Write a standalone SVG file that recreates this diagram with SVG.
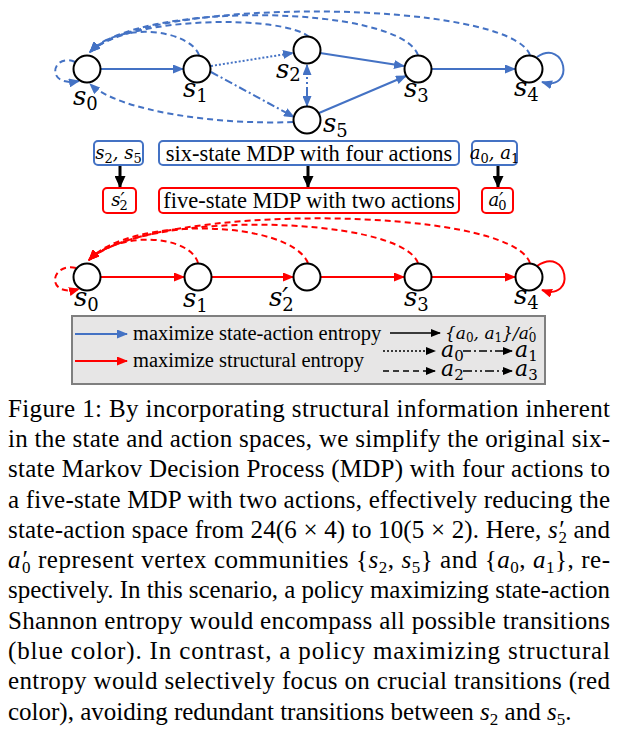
<svg xmlns="http://www.w3.org/2000/svg" width="621" height="733" viewBox="0 0 621 733">
<style>
.node circle{fill:#fff;stroke:#000;stroke-width:2}
.lbl{font-family:"DejaVu Serif",serif;font-style:italic;font-size:26px;fill:#000}
.sub{font-style:normal;font-size:18px}
.b{fill:none;stroke:#4472C4;stroke-width:2}
.r{fill:none;stroke:#FF0000;stroke-width:2}
.k{fill:none;stroke:#000;stroke-width:1.6}
.dash{stroke-dasharray:6,4}
.dot{stroke-dasharray:2,2}
.dd{stroke-dasharray:8,3,2,3}
.ddd{stroke-dasharray:9,3,2,3,2,3}
.bx{fill:#fff;stroke-width:2}
.bt{font-family:"Liberation Serif",serif;font-size:22.5px;fill:#000}
.mt{font-family:"DejaVu Serif",serif;font-style:italic;font-size:18px;fill:#000}
.ms{font-style:normal;font-size:13px}
.m1{font-family:"DejaVu Serif",serif;font-style:italic;font-size:17px;fill:#000}
.m1s{font-style:normal;font-size:12px}
.m2{font-family:"DejaVu Serif",serif;font-style:italic;font-size:22px;fill:#000}
.m2s{font-style:normal;font-size:15px}
.lg{font-family:"Liberation Serif",serif;font-size:20.5px;fill:#000}
.cap{font-family:"Liberation Serif",serif;font-size:25px;fill:#000}
.it{font-style:italic}
.cs{font-size:17px}
</style>
<defs>
<marker id="ab" markerUnits="userSpaceOnUse" markerWidth="11" markerHeight="9" refX="10" refY="4.5" orient="auto-start-reverse"><path d="M0,0 L11,4.5 L0,9 z" fill="#4472C4"/></marker>
<marker id="ar" markerUnits="userSpaceOnUse" markerWidth="11" markerHeight="9" refX="10" refY="4.5" orient="auto"><path d="M0,0 L11,4.5 L0,9 z" fill="#FF0000"/></marker>
<marker id="ak" markerUnits="userSpaceOnUse" markerWidth="10" markerHeight="8" refX="9" refY="4" orient="auto"><path d="M0,0 L10,4 L0,8 z" fill="#000"/></marker>
<marker id="akb" markerUnits="userSpaceOnUse" markerWidth="12" markerHeight="11" refX="11" refY="5.5" orient="auto"><path d="M0,0 L12,5.5 L0,11 z" fill="#000"/></marker>
</defs>

<g id="connectors">
  <!-- top graph -->
  <path class="b" d="M101,69 L183,69" marker-end="url(#ab)"/>
  <path class="b dash" d="M75,62 C52,52 44,88 79,81" marker-end="url(#ab)"/>
  <path class="b dot" d="M211,66 L293,53" marker-end="url(#ab)"/>
  <path class="b dd" d="M211,72 L294,117" marker-end="url(#ab)"/>
  <path class="b ddd" d="M307,65 L307,106" marker-start="url(#ab)" marker-end="url(#ab)"/>
  <path class="b" d="M320,53 L404,66" marker-end="url(#ab)"/>
  <path class="b" d="M319,113 L406,76" marker-end="url(#ab)"/>
  <path class="b" d="M432,69 L515,69" marker-end="url(#ab)"/>
  <path class="b" d="M537,57 C566,38 576,92 542,82" marker-end="url(#ab)"/>
  <path class="b dash" d="M199,55 C190,30 120,20 90,52" marker-end="url(#ab)"/>
  <path class="b dash" d="M309,37 C285,15 130,15 90,52" marker-end="url(#ab)"/>
  <path class="b dash" d="M418,55 C400,5 140,0 90,52" marker-end="url(#ab)"/>
  <path class="b dash" d="M530,55 C510,0 150,-5 90,52" marker-end="url(#ab)"/>
  <path class="b dash" d="M293,122 C220,125 120,112 90,84" marker-end="url(#ab)"/>
  <!-- box arrows -->
  <path d="M120,166 L120,187" stroke="#000" stroke-width="3" marker-end="url(#akb)"/>
  <path d="M308,166 L308,187" stroke="#000" stroke-width="3" marker-end="url(#akb)"/>
  <path d="M498,166 L498,187" stroke="#000" stroke-width="3" marker-end="url(#akb)"/>
  <!-- bottom graph -->
  <path class="r" d="M101,277 L184,277" marker-end="url(#ar)"/>
  <path class="r" d="M212,277 L293,277" marker-end="url(#ar)"/>
  <path class="r" d="M321,277 L404,277" marker-end="url(#ar)"/>
  <path class="r" d="M432,277 L515,277" marker-end="url(#ar)"/>
  <path class="r dash" d="M76,268 C50,262 45,298 79,289" marker-end="url(#ar)"/>
  <path class="r" d="M537,266 C568,245 577,302 542,290" marker-end="url(#ar)"/>
  <path class="r dash" d="M198,263 C190,235 120,230 89,260" marker-end="url(#ar)"/>
  <path class="r dash" d="M308,263 C290,220 130,215 89,260" marker-end="url(#ar)"/>
  <path class="r dash" d="M418,263 C400,215 140,210 89,260" marker-end="url(#ar)"/>
  <path class="r dash" d="M530,263 C510,205 150,203 89,260" marker-end="url(#ar)"/>
</g>

<g id="top-s0" class="node"><circle cx="87" cy="69" r="13.5"/><text class="lbl" x="73" y="105">s<tspan class="sub" dy="5">0</tspan></text></g>
<g id="top-s1" class="node"><circle cx="197" cy="69" r="13.5"/><text class="lbl" x="183" y="97">s<tspan class="sub" dy="5">1</tspan></text></g>
<g id="top-s2" class="node"><circle cx="307" cy="50" r="13.5"/><text class="lbl" x="276" y="78">s<tspan class="sub" dy="3">2</tspan></text></g>
<g id="top-s5" class="node"><circle cx="307" cy="120" r="13.5"/><text class="lbl" x="323" y="132">s<tspan class="sub" dy="5">5</tspan></text></g>
<g id="top-s3" class="node"><circle cx="418" cy="69" r="13.5"/><text class="lbl" x="404" y="97">s<tspan class="sub" dy="5">3</tspan></text></g>
<g id="top-s4" class="node"><circle cx="529" cy="69" r="13.5"/><text class="lbl" x="514" y="96">s<tspan class="sub" dy="5">4</tspan></text></g>

<g id="box-s2s5"><rect class="bx" x="94" y="141" width="49" height="24" rx="4" stroke="#4472C4"/><text class="mt" x="118.5" y="159" text-anchor="middle">s<tspan class="ms" dy="4">2</tspan><tspan dy="-4">, s</tspan><tspan class="ms" dy="4">5</tspan></text></g>
<g id="box-six"><rect class="bx" x="159" y="141" width="300" height="24" rx="4" stroke="#4472C4"/><text class="bt" x="309" y="161" text-anchor="middle">six-state MDP with four actions</text></g>
<g id="box-a0a1"><rect class="bx" x="472" y="141" width="45" height="24" rx="4" stroke="#4472C4"/><text class="mt" x="494.5" y="159" text-anchor="middle">a<tspan class="ms" dy="4">0</tspan><tspan dy="-4">, a</tspan><tspan class="ms" dy="4">1</tspan></text></g>
<g id="box-s2p"><rect class="bx" x="103" y="188" width="33" height="25" rx="4" stroke="#FF0000"/><text class="mt" x="119.5" y="206" text-anchor="middle">s′<tspan class="ms" dx="-5" dy="4">2</tspan></text></g>
<g id="box-five"><rect class="bx" x="159" y="188" width="300" height="25" rx="4" stroke="#FF0000"/><text class="bt" x="309" y="208" text-anchor="middle">five-state MDP with two actions</text></g>
<g id="box-a0p"><rect class="bx" x="482" y="188" width="31" height="25" rx="4" stroke="#FF0000"/><text class="mt" x="497.5" y="206" text-anchor="middle">a′<tspan class="ms" dx="-5" dy="4">0</tspan></text></g>

<g id="bot-s0" class="node"><circle cx="87" cy="277" r="13.5"/><text class="lbl" x="74" y="306">s<tspan class="sub" dy="5">0</tspan></text></g>
<g id="bot-s1" class="node"><circle cx="198" cy="277" r="13.5"/><text class="lbl" x="183" y="307">s<tspan class="sub" dy="5">1</tspan></text></g>
<g id="bot-s2p" class="node"><circle cx="307" cy="277" r="13.5"/><text class="lbl" x="269" y="306">s′<tspan class="sub" dx="-6" dy="5">2</tspan></text></g>
<g id="bot-s3" class="node"><circle cx="418" cy="277" r="13.5"/><text class="lbl" x="404" y="306">s<tspan class="sub" dy="5">3</tspan></text></g>
<g id="bot-s4" class="node"><circle cx="529" cy="277" r="13.5"/><text class="lbl" x="514" y="304">s<tspan class="sub" dy="5">4</tspan></text></g>

<g id="legend">
  <rect x="72" y="316" width="473" height="68" fill="#e7e6e6" stroke="#7f7f7f" stroke-width="2"/>
  <path class="b" d="M75,334 L127,334" marker-end="url(#ab)"/>
  <text class="lg" x="133" y="340">maximize state-action entropy</text>
  <path class="r" d="M75,361 L127,361" marker-end="url(#ar)"/>
  <text class="lg" x="133" y="367">maximize structural entropy</text>
  <path class="k" d="M390,333 L440,333" marker-end="url(#ak)"/>
  <text class="m1" x="445" y="339">{a<tspan class="m1s" dy="3">0</tspan><tspan dy="-3">, a</tspan><tspan class="m1s" dy="3">1</tspan><tspan dy="-3">}/a′</tspan><tspan class="m1s" dx="-4" dy="3">0</tspan></text>
  <path class="k dot" d="M383,351 L435,351" marker-end="url(#ak)"/>
  <text class="m2" x="441" y="357">a<tspan class="m2s" dy="4">0</tspan></text>
  <path class="k dd" d="M463,351 L512,351" marker-end="url(#ak)"/>
  <text class="m2" x="515" y="357">a<tspan class="m2s" dy="4">1</tspan></text>
  <path class="k dash" d="M383,371 L435,371" marker-end="url(#ak)"/>
  <text class="m2" x="441" y="376">a<tspan class="m2s" dy="4">2</tspan></text>
  <path class="k ddd" d="M463,371 L512,371" marker-end="url(#ak)"/>
  <text class="m2" x="515" y="376">a<tspan class="m2s" dy="4">3</tspan></text>
</g>

<g id="caption" class="cap">
  <text x="8" y="417" textLength="602" lengthAdjust="spacing">Figure 1: By incorporating structural information inherent</text>
  <text x="8" y="447" textLength="602" lengthAdjust="spacing">in the state and action spaces, we simplify the original six-</text>
  <text x="8" y="477" textLength="602" lengthAdjust="spacing">state Markov Decision Process (MDP) with four actions to</text>
  <text x="8" y="508" textLength="602" lengthAdjust="spacing">a five-state MDP with two actions, effectively reducing the</text>
  <text x="8" y="538" textLength="602" lengthAdjust="spacing">state-action space from 24(6 × 4) to 10(5 × 2). Here, <tspan class="it">s′</tspan><tspan class="cs" dx="-5" dy="5">2</tspan><tspan dy="-5"> and</tspan></text>
  <text x="8" y="568" textLength="602" lengthAdjust="spacing"><tspan class="it">a′</tspan><tspan class="cs" dx="-5" dy="5">0</tspan><tspan dy="-5"> represent vertex communities {</tspan><tspan class="it">s</tspan><tspan class="cs" dy="5">2</tspan><tspan dy="-5">, </tspan><tspan class="it">s</tspan><tspan class="cs" dy="5">5</tspan><tspan dy="-5">} and {</tspan><tspan class="it">a</tspan><tspan class="cs" dy="5">0</tspan><tspan dy="-5">, </tspan><tspan class="it">a</tspan><tspan class="cs" dy="5">1</tspan><tspan dy="-5">}, re-</tspan></text>
  <text x="8" y="598" textLength="602" lengthAdjust="spacing">spectively. In this scenario, a policy maximizing state-action</text>
  <text x="8" y="629" textLength="602" lengthAdjust="spacing">Shannon entropy would encompass all possible transitions</text>
  <text x="8" y="659" textLength="602" lengthAdjust="spacing">(blue color).  In contrast, a policy maximizing structural</text>
  <text x="8" y="689" textLength="602" lengthAdjust="spacing">entropy would selectively focus on crucial transitions (red</text>
  <text x="8" y="720">color), avoiding redundant transitions between <tspan class="it">s</tspan><tspan class="cs" dy="5">2</tspan><tspan dy="-5"> and </tspan><tspan class="it">s</tspan><tspan class="cs" dy="5">5</tspan><tspan dy="-5">.</tspan></text>
</g>
</svg>
